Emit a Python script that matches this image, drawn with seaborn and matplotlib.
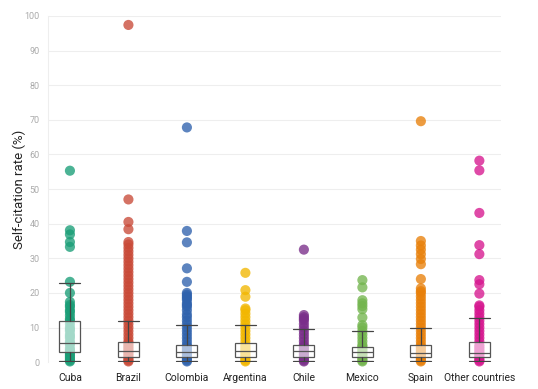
import matplotlib
matplotlib.use("Agg")
import matplotlib.pyplot as plt
import pandas as pd
import seaborn as sns

# countries in plot order
countries = ["Cuba", "Brazil", "Colombia", "Argentina", "Chile", "Mexico", "Spain", "Other countries"]
colors = ["#1a9e77", "#c94a38", "#2f62ad", "#f2b701", "#7a2e8a", "#73b54e", "#e8800a", "#d6178f"]

# self-citation rates (%)
cuba = [55.3, 38.1, 36.9, 34.7, 33.3, 23.2, 20.0, 17.4, 16.5, 16.0, 15.0, 14.5, 13.5, 12.5, 12.0,
        11.0, 10.0, 9.5, 9.0, 8.0, 7.5, 7.0, 6.0, 5.5, 5.0, 4.0, 3.5, 3.0, 2.5, 2.0, 1.5, 1.0, 0.5, 0.2]
brazil = [97.4, 47.0, 40.5, 38.4, 34.7, 34.0, 33.0, 32.0, 31.0, 30.0, 29.0, 28.0, 27.0, 26.0, 25.0,
          24.0, 23.0, 22.0, 21.0, 20.0, 19.0, 18.0, 17.0, 16.0, 15.0, 14.0, 13.0, 12.0, 11.0, 10.0,
          9.0, 8.0, 7.0, 6.0, 5.5, 5.0, 4.5, 4.0, 3.5, 3.0, 2.5, 2.0, 1.5, 1.0, 0.5, 0.2]
colombia = [67.8, 37.9, 34.6, 27.1, 23.2, 20.0, 19.5, 19.0, 18.5, 18.0, 17.0, 16.5, 16.0, 15.0, 13.8,
            13.0, 12.0, 11.0, 10.0, 9.0, 8.0, 7.0, 6.0, 5.0, 4.5, 4.0, 3.5, 3.0, 2.5, 2.0, 1.5, 1.0, 0.5, 0.2]
argentina = [25.8, 20.8, 18.9, 15.5, 15.0, 14.0, 13.0, 12.0, 11.0, 10.0, 9.0, 8.0, 7.0, 6.0, 5.0,
             4.5, 4.0, 3.5, 3.0, 2.5, 2.0, 1.5, 1.0, 0.5, 0.2]
chile = [32.5, 13.6, 13.0, 12.5, 12.0, 11.0, 10.0, 9.0, 8.0, 7.0, 6.0, 5.0, 4.5, 4.0, 3.5, 3.0,
         2.5, 2.0, 1.5, 1.0, 0.5, 0.2]
mexico = [23.7, 21.6, 17.9, 17.0, 16.2, 15.3, 12.9, 10.7, 10.0, 9.0, 8.0, 7.0, 6.0, 5.0, 4.5, 4.0,
          3.5, 3.0, 2.5, 2.0, 1.5, 1.0, 0.5, 0.2]
spain = [69.6, 35.0, 33.7, 32.5, 31.2, 29.8, 28.3, 24.0, 21.3, 20.5, 20.0, 19.0, 18.0, 17.0, 16.0,
         15.0, 14.0, 13.0, 12.0, 11.0, 10.0, 9.0, 8.0, 7.0, 6.0, 5.0, 4.5, 4.0, 3.5, 3.0, 2.5, 2.0,
         1.5, 1.0, 0.5, 0.2]
other = [58.2, 55.4, 43.1, 33.8, 31.2, 23.7, 22.5, 19.8, 16.4, 16.0, 15.0, 14.0, 13.0, 12.0, 11.0,
         10.0, 9.0, 8.0, 7.0, 6.0, 5.0, 4.5, 4.0, 3.5, 3.0, 2.5, 2.0, 1.5, 1.0, 0.5, 0.2]
values = [cuba, brazil, colombia, argentina, chile, mexico, spain, other]

# box statistics
whislo = [0.3, 0.3, 0.3, 0.3, 0.3, 0.3, 0.3, 0.3]
q1 = [2.8, 1.4, 1.4, 1.6, 1.4, 1.5, 1.4, 1.4]
med = [5.6, 3.1, 2.9, 3.1, 3.1, 2.8, 2.7, 2.6]
q3 = [11.9, 5.8, 5.1, 5.4, 4.9, 4.5, 4.9, 5.9]
whishi = [22.9, 11.9, 10.6, 10.7, 9.7, 9.1, 9.9, 12.7]

rows = []
for c, vals in zip(countries, values):
    for v in vals:
        rows.append({"country": c, "rate": v})
df = pd.DataFrame(rows)

sns.set_style("white")
plt.rcParams["font.family"] = ["Roboto", "DejaVu Sans"]

fig, ax = plt.subplots(figsize=(5.38, 3.89), dpi=100)
fig.subplots_adjust(left=0.089, right=0.932, top=0.959, bottom=0.069)

sns.stripplot(data=df, x="country", y="rate", hue="country", order=countries,
              hue_order=countries, palette=colors, jitter=False, size=7.3, alpha=0.78,
              linewidth=0, legend=False, ax=ax, zorder=2, clip_on=False)

stats = []
for i in range(len(countries)):
    stats.append({"med": med[i], "q1": q1[i], "q3": q3[i],
                  "whislo": whislo[i], "whishi": whishi[i], "fliers": []})
ax.bxp(stats, positions=range(len(countries)), widths=0.36, patch_artist=True,
       showfliers=False, manage_ticks=False,
       boxprops=dict(facecolor=(1, 1, 1, 0.6), edgecolor="#555555", linewidth=0.9),
       medianprops=dict(color="#555555", linewidth=0.9),
       whiskerprops=dict(color="#444444", linewidth=0.9),
       capprops=dict(color="#444444", linewidth=0.9), capwidths=0.36, zorder=3)

ax.set_xlim(-0.377, 7.377)
ax.set_ylim(0, 100)
ax.set_yticks(range(0, 101, 10))
ax.yaxis.grid(True, color="#eeeeee", linewidth=0.8)
ax.set_axisbelow(True)
for s in ["top", "right", "bottom"]:
    ax.spines[s].set_visible(False)
ax.spines["left"].set_color("#eeeeee")
ax.tick_params(axis="y", labelsize=6.5, labelcolor="#aaaaaa", length=0, pad=6)
ax.tick_params(axis="x", labelsize=7.5, labelcolor="#222222", length=0, pad=8)
ax.set_xlabel("")
ax.set_ylabel("Self-citation rate (%)", fontsize=9.5, color="#222222", labelpad=-1)

fig.savefig("out.png", dpi=100)
